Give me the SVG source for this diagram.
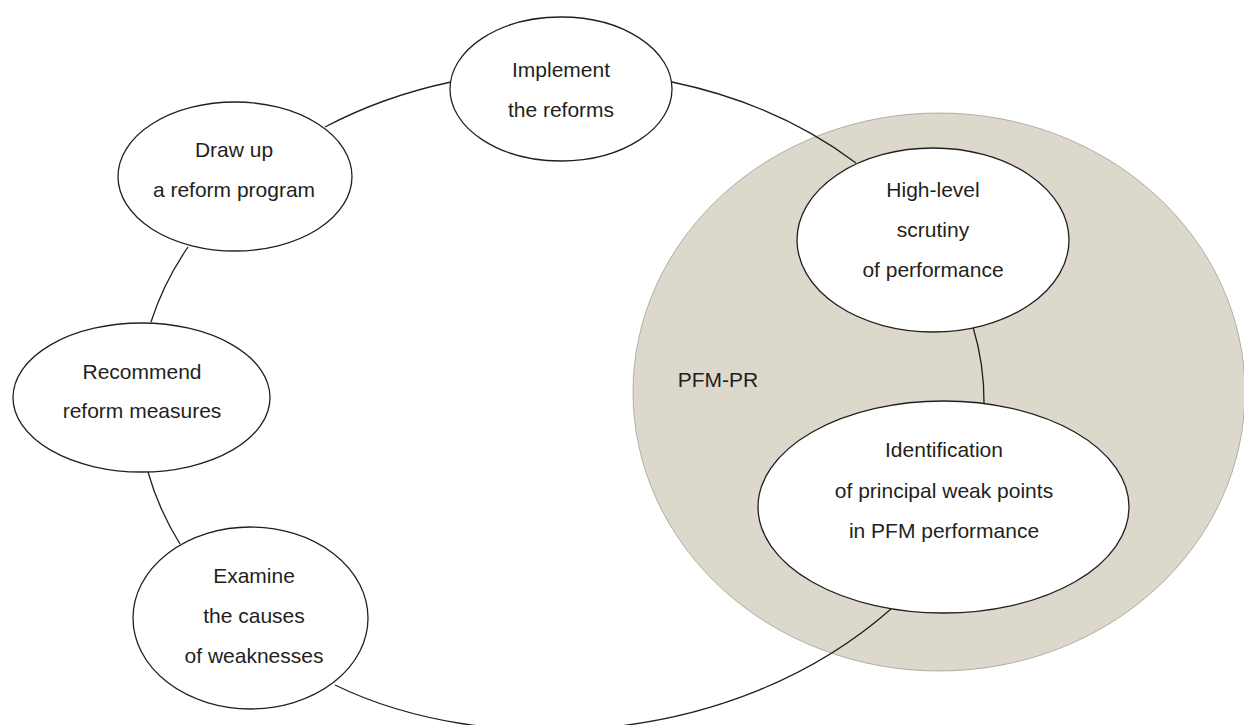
<svg xmlns="http://www.w3.org/2000/svg" width="1244" height="725" viewBox="0 0 1244 725">
  <style>
    .node ellipse { fill: #ffffff; stroke: #231f20; stroke-width: 1.3; }
    .conn path { fill: none; stroke: #231f20; stroke-width: 1.3; }
    text { font-family: "Liberation Sans", Arial, sans-serif; font-size: 21px; fill: #231f20; text-anchor: middle; }
    .region { fill: #ddd8cc; stroke: #8a8782; stroke-width: 0.6; }
  </style>
  <rect x="0" y="0" width="1244" height="725" fill="#ffffff"/>

  <g id="pfm-pr-region">
    <ellipse class="region" cx="939" cy="392" rx="306" ry="279"/>
    <text x="718" y="387">PFM-PR</text>
  </g>

  <g id="connectors" class="conn">
    <path d="M325,127 A422,327 0 0 1 451,82"/>
    <path d="M672,82 A422,327 0 0 1 856,163"/>
    <path d="M973,327 A422,327 0 0 1 984,403"/>
    <path d="M891,609 C731,750 485,758 335,685"/>
    <path d="M180,544 A422,327 0 0 1 148,472"/>
    <path d="M151,322 A422,327 0 0 1 188,247"/>
  </g>

  <g id="node-implement" class="node">
    <ellipse cx="561" cy="89" rx="111" ry="72"/>
    <text x="561" y="77">Implement</text>
    <text x="561" y="117">the reforms</text>
  </g>

  <g id="node-draw-up" class="node">
    <ellipse cx="235" cy="176.5" rx="117" ry="74.5"/>
    <text x="234" y="157">Draw up</text>
    <text x="234" y="197">a reform program</text>
  </g>

  <g id="node-recommend" class="node">
    <ellipse cx="141.5" cy="397.5" rx="128.5" ry="74.5"/>
    <text x="142" y="379">Recommend</text>
    <text x="142" y="418">reform measures</text>
  </g>

  <g id="node-examine" class="node">
    <ellipse cx="250.5" cy="618" rx="117.5" ry="91"/>
    <text x="254" y="583">Examine</text>
    <text x="254" y="623">the causes</text>
    <text x="254" y="663">of weaknesses</text>
  </g>

  <g id="node-high-level" class="node">
    <ellipse cx="933" cy="240" rx="136" ry="92"/>
    <text x="933" y="197">High-level</text>
    <text x="933" y="237">scrutiny</text>
    <text x="933" y="277">of performance</text>
  </g>

  <g id="node-identification" class="node">
    <ellipse cx="943.5" cy="507" rx="185.5" ry="106"/>
    <text x="944" y="457">Identification</text>
    <text x="944" y="498">of principal weak points</text>
    <text x="944" y="538">in PFM performance</text>
  </g>
</svg>
